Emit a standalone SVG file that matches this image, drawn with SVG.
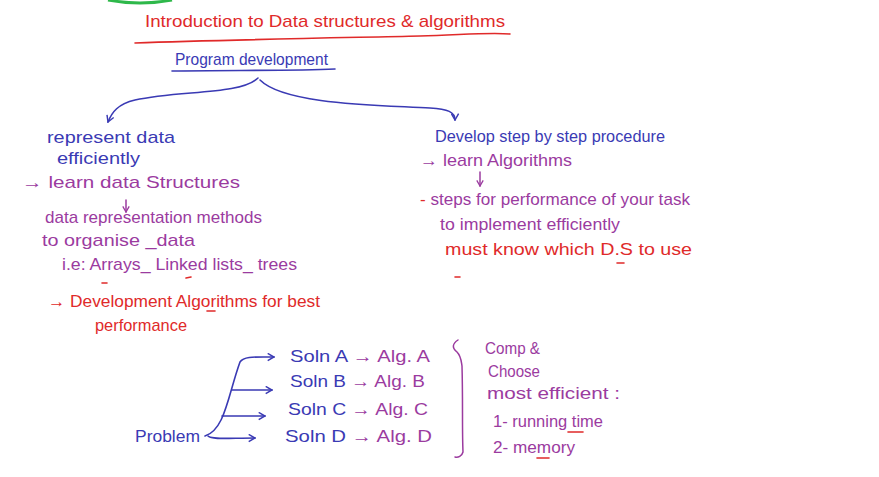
<svg xmlns="http://www.w3.org/2000/svg" width="879" height="477" viewBox="0 0 879 477">
<defs>
<style>
text{font-family:"Liberation Sans","DejaVu Sans",sans-serif;font-size:17px}
.b{fill:#3a3ab4}.p{fill:#9b3b9f}.r{fill:#e02a2a}
.sb{stroke:#3a3ab4;fill:none;stroke-width:1.6;stroke-linecap:round}
.sp{stroke:#9b3b9f;fill:none;stroke-width:1.5;stroke-linecap:round}
.sr{stroke:#e02a2a;fill:none;stroke-width:1.6;stroke-linecap:round}
</style>
<marker id="ab" viewBox="0 0 10 10" refX="9" refY="5" markerWidth="9" markerHeight="9" markerUnits="userSpaceOnUse" orient="auto"><path d="M2,1 L9,5 L2,9" fill="none" stroke="#3a3ab4" stroke-width="1.6"/></marker>
<marker id="ap" viewBox="0 0 10 10" refX="9" refY="5" markerWidth="8" markerHeight="8" markerUnits="userSpaceOnUse" orient="auto"><path d="M2,1 L9,5 L2,9" fill="none" stroke="#9b3b9f" stroke-width="1.6"/></marker>
</defs>
<rect width="879" height="477" fill="#fff"/>
<path d="M108,0 Q140,6 172,0" stroke="#2eb84a" stroke-width="3" fill="none"/>
<g id="title">
<text class="r" x="145" y="27" textLength="360" lengthAdjust="spacingAndGlyphs">Introduction to Data structures &amp; algorithms</text>
<path class="sr" d="M135,43 C220,40 330,38 420,36 C460,35 490,32 510,34"/>
</g>
<g id="program">
<text class="b" x="175" y="65" textLength="153" lengthAdjust="spacingAndGlyphs">Program development</text>
<path class="sb" d="M172,71 C230,70 290,71 335,69"/>
</g>
<g id="connectors">
<path class="sb" d="M258,78 C240,95 180,90 135,100 C118,104 112,112 108,122" marker-end="url(#ab)"/>
<path class="sb" d="M260,80 C285,105 380,105 430,108 C448,109 455,112 455,120" marker-end="url(#ab)"/>
<path class="sp" d="M126,200 L126,212" marker-end="url(#ap)"/>
<path class="sp" d="M480,172 L480,186" marker-end="url(#ap)"/>
<path class="sb" d="M205,436 C225,430 228,395 240,362 C244,356 255,357 274,357" marker-end="url(#ab)"/>
<path class="sb" d="M232,390 L272,390" marker-end="url(#ab)"/>
<path class="sb" d="M222,416 L265,416" marker-end="url(#ab)"/>
<path class="sb" d="M208,436 C212,440 230,438 255,438" marker-end="url(#ab)"/>
</g>
<g id="left-branch">
<text class="b" x="47" y="143" textLength="128" lengthAdjust="spacingAndGlyphs">represent data</text>
<text class="b" x="57" y="164" textLength="83" lengthAdjust="spacingAndGlyphs">efficiently</text>
<text class="p" x="22" y="188" textLength="218" lengthAdjust="spacingAndGlyphs">→ learn data Structures</text>
<text class="p" x="45" y="223" textLength="217" lengthAdjust="spacingAndGlyphs">data representation methods</text>
<text class="p" x="42" y="246" textLength="153" lengthAdjust="spacingAndGlyphs">to organise _data</text>
<text class="p" x="62" y="270" textLength="235" lengthAdjust="spacingAndGlyphs">i.e: Arrays_ Linked lists_ trees</text>
<path class="sr" d="M102,283 L107,283 M186,278 L191,277"/>
<text class="r" x="48" y="307" textLength="272" lengthAdjust="spacingAndGlyphs">→ Development Algorithms for best</text>
<path class="sr" d="M207,311 L215,311"/>
<text class="r" x="95" y="331" textLength="92" lengthAdjust="spacingAndGlyphs">performance</text>
</g>
<g id="right-branch">
<text class="b" x="435" y="142" textLength="230" lengthAdjust="spacingAndGlyphs">Develop step by step procedure</text>
<text class="p" x="420" y="166" textLength="152" lengthAdjust="spacingAndGlyphs">→ learn Algorithms</text>
<text class="p" x="420" y="205" textLength="270" lengthAdjust="spacingAndGlyphs"><tspan class="r">-</tspan> steps for performance of your task</text>
<text class="p" x="440" y="230" textLength="180" lengthAdjust="spacingAndGlyphs">to implement efficiently</text>
<text class="r" x="445" y="255" textLength="247" lengthAdjust="spacingAndGlyphs">must know which D.S to use</text>
<path class="sr" d="M617,263 L624,263 M455,277 L460,277"/>
</g>
<g id="problem">
<text class="b" x="135" y="442" textLength="65" lengthAdjust="spacingAndGlyphs">Problem</text>
</g>
<g id="solutions">
<text x="290" y="362" textLength="140" lengthAdjust="spacingAndGlyphs"><tspan class="b">Soln A</tspan><tspan class="p"> → Alg. A</tspan></text>
<text x="290" y="387" textLength="135" lengthAdjust="spacingAndGlyphs"><tspan class="b">Soln B</tspan><tspan class="p"> → Alg. B</tspan></text>
<text x="288" y="415" textLength="140" lengthAdjust="spacingAndGlyphs"><tspan class="b">Soln C</tspan><tspan class="p"> → Alg. C</tspan></text>
<text x="285" y="442" textLength="147" lengthAdjust="spacingAndGlyphs"><tspan class="b">Soln D</tspan><tspan class="p"> → Alg. D</tspan></text>
</g>
<g id="brace">
<path class="sp" d="M458,340 C452,344 452,348 457,352 C461,356 461,360 462,366 C463,400 462,430 463,452 C462,456 458,458 455,457"/>
</g>
<g id="criteria">
<text class="p" x="485" y="354" textLength="55" lengthAdjust="spacingAndGlyphs">Comp &amp;</text>
<text class="p" x="488" y="377" textLength="52" lengthAdjust="spacingAndGlyphs">Choose</text>
<text class="p" x="487" y="399" textLength="133" lengthAdjust="spacingAndGlyphs">most efficient :</text>
<text class="p" x="493" y="427" textLength="110" lengthAdjust="spacingAndGlyphs">1- running time</text>
<path class="sr" d="M568,432 L583,432"/>
<text class="p" x="493" y="453" textLength="82" lengthAdjust="spacingAndGlyphs">2- memory</text>
<path class="sr" d="M537,458 L549,458"/>
</g>
</svg>
